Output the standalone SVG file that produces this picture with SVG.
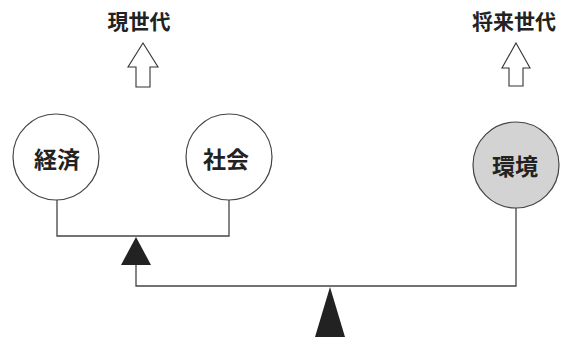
<svg xmlns="http://www.w3.org/2000/svg" width="570" height="342" viewBox="0 0 570 342">
<style>
.t{font-family:"Noto Sans CJK JP","Noto Sans CJK SC",sans-serif;font-weight:bold;fill:#222;text-anchor:middle}
.c{fill:#fff;stroke:#444;stroke-width:1.2}
.ln{fill:none;stroke:#444;stroke-width:1.3}
.arr{fill:#fff;stroke:#333;stroke-width:1.1}
.tri{fill:#222}
</style>
<rect width="570" height="342" fill="#fff"/>
<g id="gen-now">
<text class="t" x="139" y="29" font-size="21">現世代</text>
<polygon class="arr" points="143,43 158,67 150,67 150,87 136,87 136,67 128,67"/>
</g>
<g id="gen-future">
<text class="t" x="514" y="29" font-size="21">将来世代</text>
<polygon class="arr" points="516,43 530,68 523,68 523,86 509,86 509,68 502,68"/>
</g>
<g id="economy">
<circle class="c" cx="56" cy="157" r="43"/>
<text class="t" x="57" y="168" font-size="23">経済</text>
</g>
<g id="society">
<circle class="c" cx="229" cy="157" r="43"/>
<text class="t" x="226" y="168" font-size="23">社会</text>
</g>
<g id="environment">
<circle class="c" cx="516" cy="165" r="43" style="fill:#d3d3d3"/>
<text class="t" x="515" y="175" font-size="23">環境</text>
</g>
<g id="connectors">
<polyline class="ln" points="57,200 57,236 229,236 229,200"/>
<polyline class="ln" points="136,262 136,286 516,286 516,208"/>
<polygon class="tri" points="136,237 151,265 121,265"/>
<polygon class="tri" points="330,287 345,337 315,337"/>
</g>
</svg>
